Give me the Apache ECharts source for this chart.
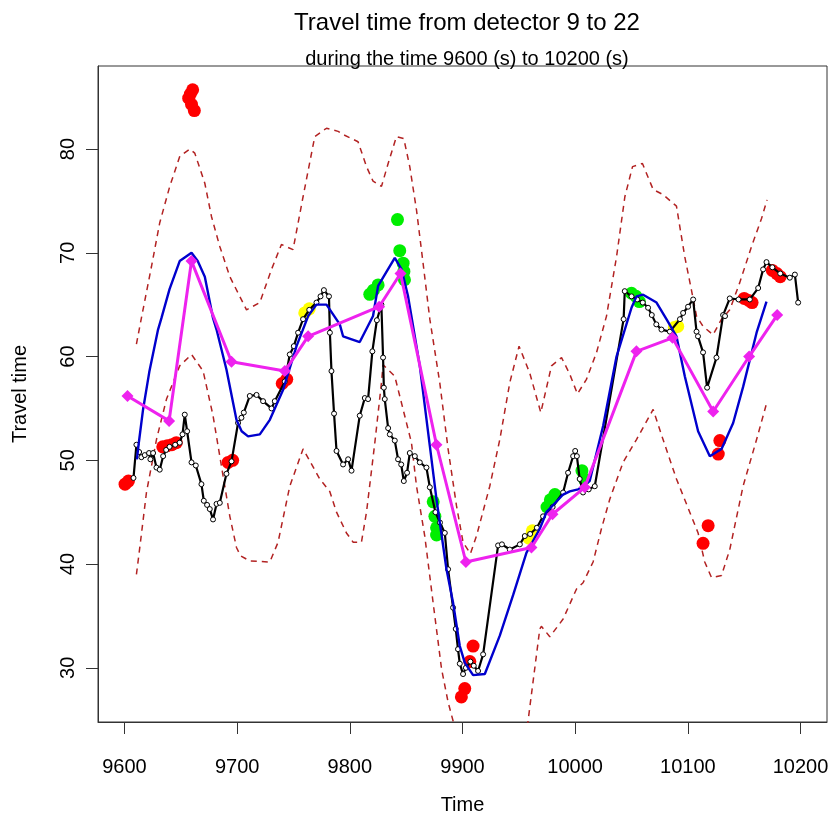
<!DOCTYPE html>
<html>
<head>
<meta charset="utf-8">
<script src="https://cdn.jsdelivr.net/npm/echarts@6/dist/echarts.min.js"></script>
<style>html,body{margin:0;padding:0;background:#fff;}#c{width:832px;height:820px;}</style>
</head>
<body>
<div id="c"></div>
<script>
var titleText = 'Travel time from detector 9 to 22';
var subtitleText = 'during the time 9600 (s) to 10200 (s)';
var xName = 'Time';
var yName = 'Travel time';
var xTicks = [9600, 9700, 9800, 9900, 10000, 10100, 10200];
var yTicks = [30, 40, 50, 60, 70, 80];

var observed = [[9608,48.3],[9610.6,51.5],[9613,50.8],[9615,50.3],[9618,50.5],[9621.8,50.7],[9623,50.1],[9625.4,50.7],[9628.4,49.3],[9631.3,49.1],[9634.3,50.4],[9637,51.0],[9640,51.3],[9645,51.5],[9649,51.7],[9651.5,52.5],[9653.5,54.4],[9655.6,52.8],[9659.5,49.8],[9663.3,49.5],[9668.3,47.7],[9670.4,46.1],[9673.3,45.7],[9675.7,45.3],[9678.6,44.3],[9681.7,45.8],[9684.6,45.9],[9690.5,48.7],[9695,49.9],[9700.8,53.6],[9703.8,54.1],[9705.9,54.6],[9711.2,56.2],[9717.2,56.3],[9723,55.7],[9730.5,55.0],[9733.4,55.7],[9742.3,57.6],[9746.7,60.2],[9750.3,61.0],[9754.1,62.3],[9758.5,63.6],[9764,64.5],[9770.4,65.2],[9774,65.8],[9777,66.4],[9781.5,65.8],[9782.3,62.3],[9783.7,58.6],[9786,54.5],[9788.2,50.9],[9794,49.6],[9798.5,50.1],[9801.5,49.0],[9808.8,54.3],[9813.3,56.0],[9816.2,55.9],[9820,60.5],[9824,63.5],[9828,65.0],[9829.5,59.9],[9830.2,57.0],[9831,55.9],[9834,53.1],[9835.5,52.5],[9839.9,51.9],[9842.8,50.1],[9845.6,49.6],[9847.9,48.0],[9850.8,48.8],[9853.2,50.7],[9857.7,50.4],[9862.1,49.8],[9868,49.3],[9871,47.4],[9876,45.0],[9880,44.0],[9884.3,43.0],[9887.2,39.5],[9891.6,35.8],[9894,33.75],[9896,31.8],[9897.6,30.4],[9900.5,29.4],[9903,30.0],[9907,30.6],[9910,30.2],[9913.8,29.7],[9918.3,31.3],[9931.6,41.8],[9935,41.9],[9942,41.4],[9950.9,41.9],[9955.3,42.7],[9960,42.9],[9966,43.5],[9971.5,44.6],[9980,45.5],[9989.3,46.9],[9993.7,48.8],[9998.2,50.4],[10000,50.9],[10001.5,50.4],[10004,48.2],[10007,46.9],[10012,47.2],[10017.4,47.5],[10043,63.6],[10044,66.3],[10050,65.8],[10055,65.5],[10060,65.2],[10064.7,64.7],[10068,64.0],[10072,63.1],[10076.6,62.6],[10084,62.4],[10093,63.6],[10095.8,64.2],[10100.2,64.8],[10104.7,65.5],[10107.7,62.4],[10109,61.95],[10113.5,60.4],[10117.1,57.0],[10125.4,59.9],[10131.3,64.0],[10133,63.9],[10137.2,65.6],[10145,65.5],[10155,65.5],[10162.4,66.6],[10166.8,68.4],[10169.8,69.1],[10175,68.6],[10182,68.0],[10190.5,67.6],[10195,67.9],[10197.9,65.2]];

var smooth = [[9611,50.1],[9612.5,51.5],[9616.5,54.9],[9622,58.5],[9629.8,62.6],[9632.8,63.7],[9640,66.5],[9649,69.2],[9659.5,70.0],[9665,69.2],[9671.3,67.7],[9678.6,63.7],[9681.7,62.6],[9690.5,58.75],[9699.4,53.9],[9704,52.8],[9709.7,52.3],[9720.1,52.5],[9729,53.9],[9740.8,56.8],[9752.7,61.0],[9763,63.9],[9770.4,65.0],[9779.3,65.0],[9791.1,63.1],[9794,61.95],[9808.8,61.4],[9820.6,63.9],[9825.1,66.8],[9839.9,69.5],[9845.9,68.4],[9851.7,65.8],[9862.1,59.1],[9871,51.4],[9876.9,46.25],[9885.8,39.5],[9891.6,36.3],[9897.6,32.1],[9902,30.5],[9909.4,29.3],[9919.8,29.4],[9933.1,33.1],[9944.9,37.0],[9956.8,41.1],[9968.6,43.4],[9974.5,45.0],[9989.3,46.7],[9995.2,47.0],[10002.6,47.2],[10012.9,48.0],[10024.8,53.3],[10036.7,60.0],[10050,64.7],[10054.4,65.8],[10060.3,65.96],[10072.2,65.2],[10081,63.6],[10089.9,61.95],[10097.3,58.1],[10109.1,52.8],[10119.5,50.4],[10129.9,51.1],[10140.2,53.6],[10149.1,57.1],[10161,62.3],[10169.8,65.3]];

var estimate = [[9602.7,56.2],[9639.6,53.8],[9659.5,69.2],[9695,59.5],[9742.3,58.6],[9763,61.95],[9826,64.8],[9845,68.0],[9876.9,51.5],[9903,40.2],[9961.2,41.6],[9979.9,44.8],[10008.5,47.4],[10054.4,60.5],[10086.4,61.8],[10122.5,54.7],[10154.4,60.0],[10179.3,64.0]];

var upperBand = [[9610.6,61.2],[9615,63.7],[9624,68.7],[9631.3,72.9],[9640.2,76.4],[9649.1,79.3],[9658,80.0],[9662.4,79.6],[9671.3,76.7],[9677.2,73.5],[9684.6,70.6],[9693.5,67.7],[9708.3,64.5],[9720.1,65.2],[9730.5,68.4],[9739.3,70.8],[9749.6,70.3],[9758.5,75.4],[9768.9,81.2],[9779.3,82.0],[9789.6,81.7],[9794,81.4],[9807.3,80.7],[9814.8,78.3],[9820.6,76.9],[9828.1,76.4],[9834,78.6],[9841.4,81.2],[9847.9,81.0],[9853.2,78.3],[9859.2,74.1],[9865,69.0],[9871,63.6],[9879.8,57.5],[9887.2,51.1],[9894.7,45.6],[9900.5,42.1],[9907,41.0],[9912.4,42.7],[9924.2,47.5],[9933.1,52.0],[9942,57.5],[9950.2,61.0],[9959.7,58.4],[9969.5,54.6],[9979,59.1],[9987.9,59.9],[9995.2,58.3],[10002,56.4],[10010,57.8],[10019,60.4],[10027.8,63.9],[10036.7,69.6],[10044.1,75.4],[10050.9,78.3],[10059.7,78.6],[10069.2,76.1],[10078,75.6],[10089.9,74.5],[10092.9,72.5],[10097.3,69.6],[10103.2,66.4],[10107.7,63.9],[10113.5,62.9],[10122.4,62.1],[10129.9,63.6],[10137.2,64.5],[10146,67.1],[10156.5,70.6],[10165.4,73.3],[10170.3,75.1]];

var lowerBand = [[9610.6,39.0],[9613.6,41.6],[9619.5,46.9],[9628.4,52.0],[9637.3,55.9],[9649,59.1],[9659.5,60.2],[9669.8,58.6],[9678.6,54.3],[9687.5,48.5],[9693.5,44.6],[9699.4,41.6],[9703,40.8],[9711.2,40.3],[9729,40.2],[9736.3,42.1],[9746.7,47.5],[9758.5,51.1],[9773.3,48.2],[9782.2,47.0],[9788.2,45.0],[9797,43.0],[9803,42.1],[9810.3,42.1],[9814.8,45.0],[9822.2,51.7],[9828.1,57.5],[9829.5,59.2],[9839.9,58.1],[9847.3,54.9],[9854.7,51.7],[9859.2,47.5],[9866.5,42.7],[9873.9,36.3],[9881.4,29.9],[9887.2,26.7],[9891.6,24.9],[9893,24.3],[9925,null],[9957.5,24.3],[9958.2,24.9],[9968.6,33.75],[9970,34.0],[9977.5,33.0],[9989.3,34.7],[10001.2,37.6],[10007,38.2],[10015.9,40.2],[10023.3,43.4],[10030.7,46.25],[10042.5,49.8],[10054.4,52.0],[10069.2,54.9],[10078,52.0],[10089.9,48.2],[10101.7,45.0],[10109.1,43.0],[10115,40.2],[10121,38.7],[10129.9,38.9],[10137.2,41.4],[10149,47.5],[10161,52.0],[10169.4,55.3]];

var redPoints = [[9600.5,47.7],[9603.5,48.0],[9657,84.9],[9658.5,85.3],[9660.5,85.7],[9659.5,84.3],[9662,83.7],[9634,51.3],[9638,51.4],[9642,51.5],[9646,51.7],[9692,49.8],[9696,50.0],[9740,57.4],[9744,57.8],[9909.4,32.1],[9906.5,30.6],[9902,28.0],[9899,27.2],[10128.4,51.9],[10127,50.6],[10118,43.7],[10113.5,42.0],[10150,65.6],[10154,65.4],[10157,65.2],[10175,68.3],[10179,68.0],[10182,67.7]];
var greenPoints = [[9842.3,73.2],[9844.3,70.2],[9847.3,69.0],[9848,68.2],[9848.5,67.4],[9817.7,66.0],[9821,66.4],[9825.1,66.9],[9874,46.0],[9875.5,44.6],[9877,43.5],[9877,42.8],[9975,45.5],[9978,46.2],[9982,46.7],[10006,49.0],[10008,48.2],[10050,66.1],[10054,65.8],[10057,65.3]];
var yellowPoints = [[9760,64.2],[9764,64.6],[9959,42.5],[9962,43.2],[10088,62.8],[10091,62.9]];

var FONT = '"Liberation Sans", Arial, sans-serif';
var chart = echarts.init(document.getElementById('c'), null, {renderer: 'canvas'});
function dots(data, color) {
  return {type: 'scatter', data: data, symbol: 'circle', symbolSize: 13,
    itemStyle: {color: color, opacity: 1}, silent: true, z: 3};
}
function plain(v) { return String(v); }
chart.setOption({
  animation: false,
  backgroundColor: '#fff',
  title: [
    {text: titleText, left: 462, top: 6, textAlign: 'center',
     textStyle: {fontFamily: FONT, fontSize: 24, fontWeight: 'normal', color: '#000'}},
    {text: subtitleText, left: 462, top: 44, textAlign: 'center',
     textStyle: {fontFamily: FONT, fontSize: 20, fontWeight: 'normal', color: '#000'}}
  ],
  grid: {left: 98, right: 5, top: 66, bottom: 97, show: true, borderColor: '#333', borderWidth: 1, backgroundColor: 'transparent'},
  xAxis: {
    type: 'value', min: 9576.5, max: 10223.5,
    name: xName, nameLocation: 'middle', nameGap: 73,
    nameTextStyle: {fontFamily: FONT, fontSize: 20, color: '#000'},
    axisLine: {show: true, lineStyle: {color: '#333', width: 1}},
    axisTick: {show: true, length: 12, customValues: xTicks, lineStyle: {color: '#333'}},
    axisLabel: {customValues: xTicks, formatter: plain, fontFamily: FONT, fontSize: 20, color: '#000', margin: 35},
    splitLine: {show: false}
  },
  yAxis: {
    type: 'value', min: 24.78, max: 88.0,
    name: yName, nameLocation: 'middle', nameGap: 68,
    nameTextStyle: {fontFamily: FONT, fontSize: 20, color: '#000'},
    axisLine: {show: true, lineStyle: {color: '#333', width: 1}},
    axisTick: {show: true, length: 12, customValues: yTicks, lineStyle: {color: '#333'}},
    axisLabel: {customValues: yTicks, formatter: plain, rotate: 90, fontFamily: FONT, fontSize: 20, color: '#000', margin: 20},
    splitLine: {show: false}
  },
  series: [
    {type: 'line', data: upperBand, symbol: 'none', connectNulls: false, z: 2,
     lineStyle: {color: '#B22222', width: 1.5, type: [6, 5]}},
    {type: 'line', data: lowerBand, symbol: 'none', connectNulls: false, z: 2,
     lineStyle: {color: '#B22222', width: 1.5, type: [6, 5]}},
    dots(redPoints, '#FF0000'),
    dots(greenPoints, '#00EE00'),
    dots(yellowPoints, '#FFFF00'),
    {type: 'line', data: observed, symbol: 'circle', symbolSize: 5, showAllSymbol: true, z: 4,
     itemStyle: {color: '#fff', borderColor: '#000', borderWidth: 1},
     lineStyle: {color: '#000', width: 2.2}},
    {type: 'line', data: smooth, symbol: 'none', z: 5,
     lineStyle: {color: '#0000CD', width: 2.4}},
    {type: 'line', data: estimate, symbol: 'diamond', symbolSize: 12, z: 6,
     itemStyle: {color: '#EE22EE'},
     lineStyle: {color: '#EE22EE', width: 3}}
  ]
});
</script>
</body>
</html>
